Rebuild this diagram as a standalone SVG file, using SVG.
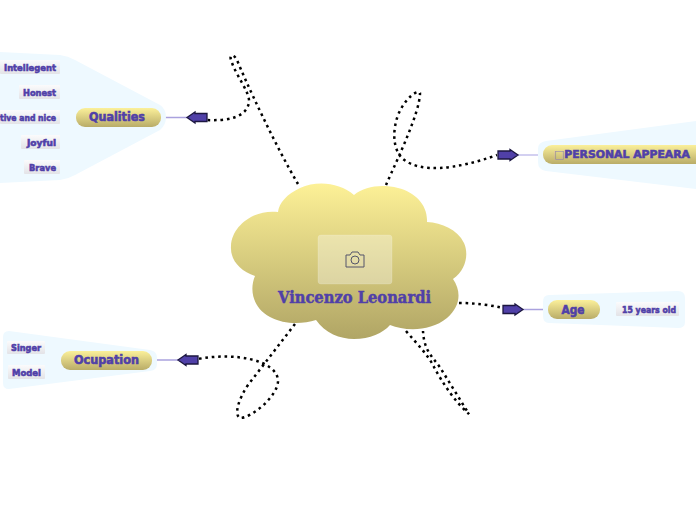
<svg xmlns="http://www.w3.org/2000/svg" width="696" height="520" viewBox="0 0 696 520">
<defs>
<linearGradient id="pill" x1="0" y1="0" x2="0" y2="1"><stop offset="0" stop-color="#fbf09a"/><stop offset="1" stop-color="#b9ac68"/></linearGradient>
<linearGradient id="cloudG" gradientUnits="userSpaceOnUse" x1="0" y1="183" x2="0" y2="339"><stop offset="0" stop-color="#fdf197"/><stop offset="1" stop-color="#b0a565"/></linearGradient>
<linearGradient id="sub" x1="0" y1="0" x2="0" y2="1"><stop offset="0" stop-color="#fbfbfc"/><stop offset="1" stop-color="#e3e3e7"/></linearGradient>
</defs>
<style>
.bg{fill:#eef9ff}
.pill{fill:url(#pill)}
.sub{fill:url(#sub)}
.t{font-family:"DejaVu Sans",sans-serif;font-weight:700;fill:#5040a8;stroke:#5040a8;stroke-width:.6}
.m{font-size:12px;text-anchor:middle}
.s{font-size:9px;text-anchor:end}
.dot{fill:none;stroke:#000;stroke-width:2.5;stroke-dasharray:2.6 3.8}
.link{fill:none;stroke:#aaa2de;stroke-width:1.3}
.arrow{fill:#5040a8;stroke:#1c1740;stroke-width:1.3;stroke-linejoin:miter}
</style>
<g id="connectors">
<path class="dot" d="M298 184C275 145 245 80 237 60C234 54 229 54 231 60C236 76 250 92 249 102C247 118 226 121 207 120"/>
<path class="dot" d="M386 185C398 158 420 112 420 93C418 89 405 98 398 115C392 132 393 150 403 159C420 173 455 170 497 155"/>
<path class="dot" d="M459 303C475 303 490 305 503 308"/>
<path class="dot" d="M406 331C418 345 428 355 434 367C442 382 455 402 469 414C462 403 448 380 441 369C434 358 424 352 423 331"/>
<path class="dot" d="M295 324L248 385C238 400 234 415 240 418C252 418 279 395 278 380C276 360 235 352 198 359"/>
<path class="link" d="M161 117.500H187M523 309.500H548M601 309.500H616M152 360H178"/>
<path d="M518 155H543" fill="none" stroke="#c9c5ee" stroke-width="1.600"/>
<path class="link" d="M60 68H62Q66 68 66 72V164Q66 168 62 168H60M60 93H62Q66 93 66 97V139Q66 143 62 143H60M60 117.500H66"/>
<path class="link" d="M45 348H47Q51 348 51 352V368Q51 372 47 372H45"/>
<path d="M66 117.500H76M51 360H61" fill="none" stroke="#5a48ac" stroke-width="1.2"/>
<path class="arrow" d="M207 113.500V121.500H195V123L187 117.500L195 112V113.500Z"/>
<path class="arrow" d="M498 151V159H510V160.500L518 155L510 149.500V151Z"/>
<path class="arrow" d="M503 305.500V313.500H515V315L523 309.500L515 304V305.500Z"/>
<path class="arrow" d="M198 356V364H186V365.500L178 360L186 354.500V356Z"/>
</g>
<g id="center">
<path fill="url(#cloudG)" d="M354 195C340 183 318 180 300 188C287 194 279 203 278 212C255 209 232 225 231 246C230 260 240 271 255 276C249 290 253 308 270 317C285 325 303 324 316 320C325 333 340 339 354 339C370 339 383 333 390 325C405 331 430 332 447 318C460 307 462 292 453 279C466 270 469 254 464 243C457 229 442 223 427 222C428 205 415 192 398 188C382 184 365 186 354 195Z"/>
<rect x="318" y="235" width="74" height="49" rx="3" fill="#fff" fill-opacity=".32" stroke="#fff" stroke-opacity=".15"/>
<path d="M346 255H350L352 252H358L360 255H364V267H346Z" fill="none" stroke="#55556a" stroke-width="1" stroke-linejoin="round"/>
<circle cx="355" cy="260" r="4" fill="none" stroke="#55556a" stroke-width="1"/>
<text x="354.500" y="303" font-family="'DejaVu Serif',serif" font-weight="700" font-size="16" text-anchor="middle" textLength="153" lengthAdjust="spacingAndGlyphs" fill="#5040a8" stroke="#5040a8" stroke-width=".5">Vincenzo Leonardi</text>
</g>
<g id="qualities">
<path class="bg" d="M0 52L60 55Q68 56 75 60L160 105Q166 109 166 117Q166 125 160 130L75 175Q68 179 60 180L0 183Z"/>
<rect class="pill" x="76" y="108" width="85" height="19" rx="9"/>
<text class="t m" x="117" y="121" textLength="56" lengthAdjust="spacingAndGlyphs">Qualities</text>
</g>
<g id="intellegent"><rect class="sub" x="0" y="60" width="60" height="14" rx="1"/><text class="t s" x="56" y="71" textLength="52" lengthAdjust="spacingAndGlyphs">Intellegent</text></g>
<g id="honest"><rect class="sub" x="19" y="85" width="41" height="14" rx="1"/><text class="t s" x="56" y="96" textLength="33" lengthAdjust="spacingAndGlyphs">Honest</text></g>
<g id="nice"><rect class="sub" x="0" y="110" width="60" height="14" rx="1"/><text class="t s" x="56" y="121" textLength="56" lengthAdjust="spacingAndGlyphs">tive and nice</text></g>
<g id="joyful"><rect class="sub" x="21" y="135" width="39" height="14" rx="1"/><text class="t s" x="56" y="146" textLength="29" lengthAdjust="spacingAndGlyphs">Joyful</text></g>
<g id="brave"><rect class="sub" x="24" y="160" width="36" height="14" rx="1"/><text class="t s" x="56" y="171" textLength="27" lengthAdjust="spacingAndGlyphs">Brave</text></g>
<g id="personal">
<path class="bg" d="M546 141L696 121V189L546 171Q538 170 538 162V149Q538 142 546 141Z"/>
<rect class="pill" x="543" y="145" width="170" height="19" rx="9"/>
<text class="t" x="554" y="158" font-size="11" textLength="136" lengthAdjust="spacingAndGlyphs"><tspan fill="#8d80b4" stroke="none">□</tspan>PERSONAL APPEARA</text>
</g>
<g id="age">
<path class="bg" d="M549 295L678 291Q685 291 685 298V322Q685 328 678 328L549 323Q543 323 543 316V302Q543 295 549 295Z"/>
<rect class="pill" x="548" y="300" width="52" height="19" rx="9"/>
<text class="t m" x="573" y="314" textLength="23" lengthAdjust="spacingAndGlyphs">Age</text>
<rect class="sub" x="616" y="302" width="63" height="14" rx="1"/>
<text class="t s" x="676" y="313" textLength="54" lengthAdjust="spacingAndGlyphs">15 years old</text>
</g>
<g id="ocupation">
<path class="bg" d="M9 331L150 350Q157 351 157 358V364Q157 370 150 371L9 389Q3 389 3 383V337Q3 331 9 331Z"/>
<rect class="pill" x="61" y="351" width="91" height="19" rx="9"/>
<text class="t m" x="106.500" y="364" textLength="65" lengthAdjust="spacingAndGlyphs">Ocupation</text>
</g>
<g id="singer"><rect class="sub" x="7" y="341" width="38" height="13" rx="1"/><text class="t s" x="41" y="351" textLength="30" lengthAdjust="spacingAndGlyphs">Singer</text></g>
<g id="model"><rect class="sub" x="8" y="365" width="37" height="14" rx="1"/><text class="t s" x="41" y="376" textLength="29" lengthAdjust="spacingAndGlyphs">Model</text></g>
</svg>
